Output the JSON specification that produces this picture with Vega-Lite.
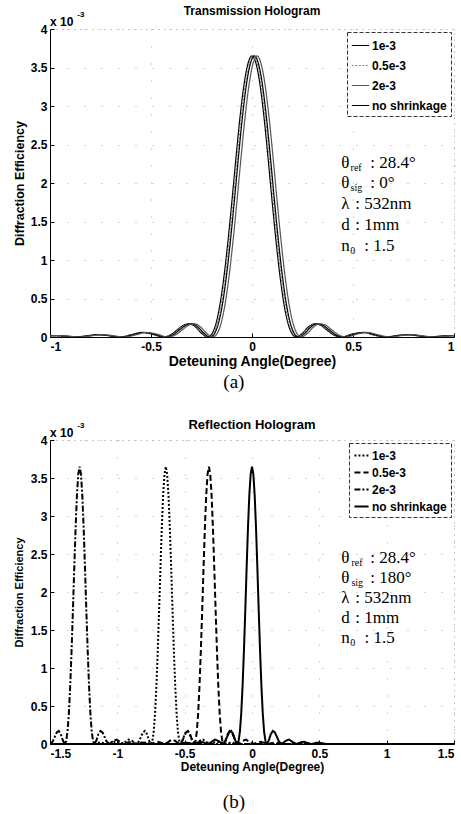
{
"$schema":"https://vega.github.io/schema/vega-lite/v6.json",
"background":"white",
"padding":{"left":12,"top":4,"right":5,"bottom":0},
"spacing":26,
"resolve":{"scale":{"color":"independent","strokeDash":"independent","strokeWidth":"independent"}},
"config":{
 "font":"Liberation Sans",
 "view":{"stroke":"#999","strokeDash":[1,5]},
 "axis":{"labelFont":"Liberation Sans","labelFontSize":12,"labelFontWeight":"bold","labelColor":"black","titleFont":"Liberation Sans","titleFontWeight":"bold","titleColor":"black","domainColor":"black","domainWidth":1,"tickColor":"black","tickSize":-4,"labelPadding":7,"grid":true,"gridColor":"#999","gridDash":[1,16],"gridOpacity":0.8},
 "title":{"font":"Liberation Sans","fontWeight":"bold","color":"black","fontSize":12},
 "legend":{"orient":"top-right","offset":3,"symbolType":"stroke","symbolSize":300,"labelFont":"Liberation Sans","labelFontWeight":"bold","labelFontSize":12,"labelColor":"black","strokeColor":"#333","strokeDash":[4,2],"fillColor":"white","padding":4,"labelOffset":2}
},
"datasets":{
"top":[
{"s":"no shrinkage","x":-1.04,"y":0.00001},{"s":"no shrinkage","x":-0.99,"y":0.000018},{"s":"no shrinkage","x":-0.94,"y":0.000013},{"s":"no shrinkage","x":-0.88,"y":0},{"s":"no shrinkage","x":-0.82,"y":0.000015},{"s":"no shrinkage","x":-0.77,"y":0.00003},{"s":"no shrinkage","x":-0.72,"y":0.00002},{"s":"no shrinkage","x":-0.66,"y":0},{"s":"no shrinkage","x":-0.6,"y":0.000028},{"s":"no shrinkage","x":-0.55,"y":0.000059},{"s":"no shrinkage","x":-0.5,"y":0.000041},{"s":"no shrinkage","x":-0.44,"y":0},{"s":"no shrinkage","x":-0.4,"y":0.000033},{"s":"no shrinkage","x":-0.37,"y":0.000093},{"s":"no shrinkage","x":-0.34,"y":0.000152},{"s":"no shrinkage","x":-0.31,"y":0.000172},{"s":"no shrinkage","x":-0.28,"y":0.000131},{"s":"no shrinkage","x":-0.25,"y":0.000049},{"s":"no shrinkage","x":-0.22,"y":0},{"s":"no shrinkage","x":-0.2,"y":0.000036},{"s":"no shrinkage","x":-0.18,"y":0.00016},{"s":"no shrinkage","x":-0.16,"y":0.0004},{"s":"no shrinkage","x":-0.14,"y":0.00076},{"s":"no shrinkage","x":-0.12,"y":0.00122},{"s":"no shrinkage","x":-0.1,"y":0.00175},{"s":"no shrinkage","x":-0.08,"y":0.00231},{"s":"no shrinkage","x":-0.06,"y":0.00284},{"s":"no shrinkage","x":-0.04,"y":0.00327},{"s":"no shrinkage","x":-0.02,"y":0.00355},{"s":"no shrinkage","x":0,"y":0.00365},{"s":"no shrinkage","x":0.02,"y":0.00355},{"s":"no shrinkage","x":0.04,"y":0.00327},{"s":"no shrinkage","x":0.06,"y":0.00284},{"s":"no shrinkage","x":0.08,"y":0.00231},{"s":"no shrinkage","x":0.1,"y":0.00175},{"s":"no shrinkage","x":0.12,"y":0.00122},{"s":"no shrinkage","x":0.14,"y":0.00076},{"s":"no shrinkage","x":0.16,"y":0.0004},{"s":"no shrinkage","x":0.18,"y":0.00016},{"s":"no shrinkage","x":0.2,"y":0.000036},{"s":"no shrinkage","x":0.22,"y":0},{"s":"no shrinkage","x":0.25,"y":0.000049},{"s":"no shrinkage","x":0.28,"y":0.000131},{"s":"no shrinkage","x":0.31,"y":0.000172},{"s":"no shrinkage","x":0.34,"y":0.000152},{"s":"no shrinkage","x":0.37,"y":0.000093},{"s":"no shrinkage","x":0.4,"y":0.000033},{"s":"no shrinkage","x":0.44,"y":0},{"s":"no shrinkage","x":0.5,"y":0.000041},{"s":"no shrinkage","x":0.55,"y":0.000059},{"s":"no shrinkage","x":0.6,"y":0.000028},{"s":"no shrinkage","x":0.66,"y":0},{"s":"no shrinkage","x":0.72,"y":0.00002},{"s":"no shrinkage","x":0.77,"y":0.00003},{"s":"no shrinkage","x":0.82,"y":0.000015},{"s":"no shrinkage","x":0.88,"y":0},{"s":"no shrinkage","x":0.94,"y":0.000013},{"s":"no shrinkage","x":0.99,"y":0.000018},{"s":"no shrinkage","x":1.04,"y":0.00001},
{"s":"0.5e-3","x":-1.034,"y":0.00001},{"s":"0.5e-3","x":-0.984,"y":0.000018},{"s":"0.5e-3","x":-0.934,"y":0.000013},{"s":"0.5e-3","x":-0.874,"y":0},{"s":"0.5e-3","x":-0.814,"y":0.000015},{"s":"0.5e-3","x":-0.764,"y":0.00003},{"s":"0.5e-3","x":-0.714,"y":0.00002},{"s":"0.5e-3","x":-0.654,"y":0},{"s":"0.5e-3","x":-0.594,"y":0.000028},{"s":"0.5e-3","x":-0.544,"y":0.000059},{"s":"0.5e-3","x":-0.494,"y":0.000041},{"s":"0.5e-3","x":-0.434,"y":0},{"s":"0.5e-3","x":-0.394,"y":0.000033},{"s":"0.5e-3","x":-0.364,"y":0.000093},{"s":"0.5e-3","x":-0.334,"y":0.000152},{"s":"0.5e-3","x":-0.304,"y":0.000172},{"s":"0.5e-3","x":-0.274,"y":0.000131},{"s":"0.5e-3","x":-0.244,"y":0.000049},{"s":"0.5e-3","x":-0.214,"y":0},{"s":"0.5e-3","x":-0.194,"y":0.000036},{"s":"0.5e-3","x":-0.174,"y":0.00016},{"s":"0.5e-3","x":-0.154,"y":0.0004},{"s":"0.5e-3","x":-0.134,"y":0.00076},{"s":"0.5e-3","x":-0.114,"y":0.00122},{"s":"0.5e-3","x":-0.094,"y":0.00175},{"s":"0.5e-3","x":-0.074,"y":0.00231},{"s":"0.5e-3","x":-0.054,"y":0.00284},{"s":"0.5e-3","x":-0.034,"y":0.00327},{"s":"0.5e-3","x":-0.014,"y":0.00355},{"s":"0.5e-3","x":0.006,"y":0.00365},{"s":"0.5e-3","x":0.026,"y":0.00355},{"s":"0.5e-3","x":0.046,"y":0.00327},{"s":"0.5e-3","x":0.066,"y":0.00284},{"s":"0.5e-3","x":0.086,"y":0.00231},{"s":"0.5e-3","x":0.106,"y":0.00175},{"s":"0.5e-3","x":0.126,"y":0.00122},{"s":"0.5e-3","x":0.146,"y":0.00076},{"s":"0.5e-3","x":0.166,"y":0.0004},{"s":"0.5e-3","x":0.186,"y":0.00016},{"s":"0.5e-3","x":0.206,"y":0.000036},{"s":"0.5e-3","x":0.226,"y":0},{"s":"0.5e-3","x":0.256,"y":0.000049},{"s":"0.5e-3","x":0.286,"y":0.000131},{"s":"0.5e-3","x":0.316,"y":0.000172},{"s":"0.5e-3","x":0.346,"y":0.000152},{"s":"0.5e-3","x":0.376,"y":0.000093},{"s":"0.5e-3","x":0.406,"y":0.000033},{"s":"0.5e-3","x":0.446,"y":0},{"s":"0.5e-3","x":0.506,"y":0.000041},{"s":"0.5e-3","x":0.556,"y":0.000059},{"s":"0.5e-3","x":0.606,"y":0.000028},{"s":"0.5e-3","x":0.666,"y":0},{"s":"0.5e-3","x":0.726,"y":0.00002},{"s":"0.5e-3","x":0.776,"y":0.00003},{"s":"0.5e-3","x":0.826,"y":0.000015},{"s":"0.5e-3","x":0.886,"y":0},{"s":"0.5e-3","x":0.946,"y":0.000013},{"s":"0.5e-3","x":0.996,"y":0.000018},{"s":"0.5e-3","x":1.046,"y":0.00001},
{"s":"1e-3","x":-1.028,"y":0.00001},{"s":"1e-3","x":-0.978,"y":0.000018},{"s":"1e-3","x":-0.928,"y":0.000013},{"s":"1e-3","x":-0.868,"y":0},{"s":"1e-3","x":-0.808,"y":0.000015},{"s":"1e-3","x":-0.758,"y":0.00003},{"s":"1e-3","x":-0.708,"y":0.00002},{"s":"1e-3","x":-0.648,"y":0},{"s":"1e-3","x":-0.588,"y":0.000028},{"s":"1e-3","x":-0.538,"y":0.000059},{"s":"1e-3","x":-0.488,"y":0.000041},{"s":"1e-3","x":-0.428,"y":0},{"s":"1e-3","x":-0.388,"y":0.000033},{"s":"1e-3","x":-0.358,"y":0.000093},{"s":"1e-3","x":-0.328,"y":0.000152},{"s":"1e-3","x":-0.298,"y":0.000172},{"s":"1e-3","x":-0.268,"y":0.000131},{"s":"1e-3","x":-0.238,"y":0.000049},{"s":"1e-3","x":-0.208,"y":0},{"s":"1e-3","x":-0.188,"y":0.000036},{"s":"1e-3","x":-0.168,"y":0.00016},{"s":"1e-3","x":-0.148,"y":0.0004},{"s":"1e-3","x":-0.128,"y":0.00076},{"s":"1e-3","x":-0.108,"y":0.00122},{"s":"1e-3","x":-0.088,"y":0.00175},{"s":"1e-3","x":-0.068,"y":0.00231},{"s":"1e-3","x":-0.048,"y":0.00284},{"s":"1e-3","x":-0.028,"y":0.00327},{"s":"1e-3","x":-0.008,"y":0.00355},{"s":"1e-3","x":0.012,"y":0.00365},{"s":"1e-3","x":0.032,"y":0.00355},{"s":"1e-3","x":0.052,"y":0.00327},{"s":"1e-3","x":0.072,"y":0.00284},{"s":"1e-3","x":0.092,"y":0.00231},{"s":"1e-3","x":0.112,"y":0.00175},{"s":"1e-3","x":0.132,"y":0.00122},{"s":"1e-3","x":0.152,"y":0.00076},{"s":"1e-3","x":0.172,"y":0.0004},{"s":"1e-3","x":0.192,"y":0.00016},{"s":"1e-3","x":0.212,"y":0.000036},{"s":"1e-3","x":0.232,"y":0},{"s":"1e-3","x":0.262,"y":0.000049},{"s":"1e-3","x":0.292,"y":0.000131},{"s":"1e-3","x":0.322,"y":0.000172},{"s":"1e-3","x":0.352,"y":0.000152},{"s":"1e-3","x":0.382,"y":0.000093},{"s":"1e-3","x":0.412,"y":0.000033},{"s":"1e-3","x":0.452,"y":0},{"s":"1e-3","x":0.512,"y":0.000041},{"s":"1e-3","x":0.562,"y":0.000059},{"s":"1e-3","x":0.612,"y":0.000028},{"s":"1e-3","x":0.672,"y":0},{"s":"1e-3","x":0.732,"y":0.00002},{"s":"1e-3","x":0.782,"y":0.00003},{"s":"1e-3","x":0.832,"y":0.000015},{"s":"1e-3","x":0.892,"y":0},{"s":"1e-3","x":0.952,"y":0.000013},{"s":"1e-3","x":1.002,"y":0.000018},{"s":"1e-3","x":1.052,"y":0.00001},
{"s":"2e-3","x":-1.015,"y":0.00001},{"s":"2e-3","x":-0.965,"y":0.000018},{"s":"2e-3","x":-0.915,"y":0.000013},{"s":"2e-3","x":-0.855,"y":0},{"s":"2e-3","x":-0.795,"y":0.000015},{"s":"2e-3","x":-0.745,"y":0.00003},{"s":"2e-3","x":-0.695,"y":0.00002},{"s":"2e-3","x":-0.635,"y":0},{"s":"2e-3","x":-0.575,"y":0.000028},{"s":"2e-3","x":-0.525,"y":0.000059},{"s":"2e-3","x":-0.475,"y":0.000041},{"s":"2e-3","x":-0.415,"y":0},{"s":"2e-3","x":-0.375,"y":0.000033},{"s":"2e-3","x":-0.345,"y":0.000093},{"s":"2e-3","x":-0.315,"y":0.000152},{"s":"2e-3","x":-0.285,"y":0.000172},{"s":"2e-3","x":-0.255,"y":0.000131},{"s":"2e-3","x":-0.225,"y":0.000049},{"s":"2e-3","x":-0.195,"y":0},{"s":"2e-3","x":-0.175,"y":0.000036},{"s":"2e-3","x":-0.155,"y":0.00016},{"s":"2e-3","x":-0.135,"y":0.0004},{"s":"2e-3","x":-0.115,"y":0.00076},{"s":"2e-3","x":-0.095,"y":0.00122},{"s":"2e-3","x":-0.075,"y":0.00175},{"s":"2e-3","x":-0.055,"y":0.00231},{"s":"2e-3","x":-0.035,"y":0.00284},{"s":"2e-3","x":-0.015,"y":0.00327},{"s":"2e-3","x":0.005,"y":0.00355},{"s":"2e-3","x":0.025,"y":0.00365},{"s":"2e-3","x":0.045,"y":0.00355},{"s":"2e-3","x":0.065,"y":0.00327},{"s":"2e-3","x":0.085,"y":0.00284},{"s":"2e-3","x":0.105,"y":0.00231},{"s":"2e-3","x":0.125,"y":0.00175},{"s":"2e-3","x":0.145,"y":0.00122},{"s":"2e-3","x":0.165,"y":0.00076},{"s":"2e-3","x":0.185,"y":0.0004},{"s":"2e-3","x":0.205,"y":0.00016},{"s":"2e-3","x":0.225,"y":0.000036},{"s":"2e-3","x":0.245,"y":0},{"s":"2e-3","x":0.275,"y":0.000049},{"s":"2e-3","x":0.305,"y":0.000131},{"s":"2e-3","x":0.335,"y":0.000172},{"s":"2e-3","x":0.365,"y":0.000152},{"s":"2e-3","x":0.395,"y":0.000093},{"s":"2e-3","x":0.425,"y":0.000033},{"s":"2e-3","x":0.465,"y":0},{"s":"2e-3","x":0.525,"y":0.000041},{"s":"2e-3","x":0.575,"y":0.000059},{"s":"2e-3","x":0.625,"y":0.000028},{"s":"2e-3","x":0.685,"y":0},{"s":"2e-3","x":0.745,"y":0.00002},{"s":"2e-3","x":0.795,"y":0.00003},{"s":"2e-3","x":0.845,"y":0.000015},{"s":"2e-3","x":0.905,"y":0},{"s":"2e-3","x":0.965,"y":0.000013},{"s":"2e-3","x":1.015,"y":0.000018},{"s":"2e-3","x":1.065,"y":0.00001}
],
"bot":[
{"s":"no shrinkage","x":-1.5,"y":0},{"s":"no shrinkage","x":-0.55,"y":0},{"s":"no shrinkage","x":-0.52,"y":0.00001},{"s":"no shrinkage","x":-0.495,"y":0.000018},{"s":"no shrinkage","x":-0.47,"y":0.000013},{"s":"no shrinkage","x":-0.44,"y":0},{"s":"no shrinkage","x":-0.41,"y":0.000015},{"s":"no shrinkage","x":-0.385,"y":0.00003},{"s":"no shrinkage","x":-0.36,"y":0.00002},{"s":"no shrinkage","x":-0.33,"y":0},{"s":"no shrinkage","x":-0.3,"y":0.000028},{"s":"no shrinkage","x":-0.275,"y":0.000059},{"s":"no shrinkage","x":-0.25,"y":0.000041},{"s":"no shrinkage","x":-0.22,"y":0},{"s":"no shrinkage","x":-0.2,"y":0.000033},{"s":"no shrinkage","x":-0.185,"y":0.000093},{"s":"no shrinkage","x":-0.17,"y":0.000152},{"s":"no shrinkage","x":-0.155,"y":0.000172},{"s":"no shrinkage","x":-0.14,"y":0.000131},{"s":"no shrinkage","x":-0.125,"y":0.000049},{"s":"no shrinkage","x":-0.11,"y":0},{"s":"no shrinkage","x":-0.1,"y":0.000036},{"s":"no shrinkage","x":-0.09,"y":0.00016},{"s":"no shrinkage","x":-0.08,"y":0.0004},{"s":"no shrinkage","x":-0.07,"y":0.00076},{"s":"no shrinkage","x":-0.06,"y":0.00122},{"s":"no shrinkage","x":-0.05,"y":0.00175},{"s":"no shrinkage","x":-0.04,"y":0.00231},{"s":"no shrinkage","x":-0.03,"y":0.00284},{"s":"no shrinkage","x":-0.02,"y":0.00327},{"s":"no shrinkage","x":-0.01,"y":0.00355},{"s":"no shrinkage","x":0,"y":0.00365},{"s":"no shrinkage","x":0.01,"y":0.00355},{"s":"no shrinkage","x":0.02,"y":0.00327},{"s":"no shrinkage","x":0.03,"y":0.00284},{"s":"no shrinkage","x":0.04,"y":0.00231},{"s":"no shrinkage","x":0.05,"y":0.00175},{"s":"no shrinkage","x":0.06,"y":0.00122},{"s":"no shrinkage","x":0.07,"y":0.00076},{"s":"no shrinkage","x":0.08,"y":0.0004},{"s":"no shrinkage","x":0.09,"y":0.00016},{"s":"no shrinkage","x":0.1,"y":0.000036},{"s":"no shrinkage","x":0.11,"y":0},{"s":"no shrinkage","x":0.125,"y":0.000049},{"s":"no shrinkage","x":0.14,"y":0.000131},{"s":"no shrinkage","x":0.155,"y":0.000172},{"s":"no shrinkage","x":0.17,"y":0.000152},{"s":"no shrinkage","x":0.185,"y":0.000093},{"s":"no shrinkage","x":0.2,"y":0.000033},{"s":"no shrinkage","x":0.22,"y":0},{"s":"no shrinkage","x":0.25,"y":0.000041},{"s":"no shrinkage","x":0.275,"y":0.000059},{"s":"no shrinkage","x":0.3,"y":0.000028},{"s":"no shrinkage","x":0.33,"y":0},{"s":"no shrinkage","x":0.36,"y":0.00002},{"s":"no shrinkage","x":0.385,"y":0.00003},{"s":"no shrinkage","x":0.41,"y":0.000015},{"s":"no shrinkage","x":0.44,"y":0},{"s":"no shrinkage","x":0.47,"y":0.000013},{"s":"no shrinkage","x":0.495,"y":0.000018},{"s":"no shrinkage","x":0.52,"y":0.00001},{"s":"no shrinkage","x":0.55,"y":0},{"s":"no shrinkage","x":1.5,"y":0},
{"s":"0.5e-3","x":-1.5,"y":0},{"s":"0.5e-3","x":-0.87,"y":0},{"s":"0.5e-3","x":-0.84,"y":0.00001},{"s":"0.5e-3","x":-0.815,"y":0.000018},{"s":"0.5e-3","x":-0.79,"y":0.000013},{"s":"0.5e-3","x":-0.76,"y":0},{"s":"0.5e-3","x":-0.73,"y":0.000015},{"s":"0.5e-3","x":-0.705,"y":0.00003},{"s":"0.5e-3","x":-0.68,"y":0.00002},{"s":"0.5e-3","x":-0.65,"y":0},{"s":"0.5e-3","x":-0.62,"y":0.000028},{"s":"0.5e-3","x":-0.595,"y":0.000059},{"s":"0.5e-3","x":-0.57,"y":0.000041},{"s":"0.5e-3","x":-0.54,"y":0},{"s":"0.5e-3","x":-0.52,"y":0.000033},{"s":"0.5e-3","x":-0.505,"y":0.000093},{"s":"0.5e-3","x":-0.49,"y":0.000152},{"s":"0.5e-3","x":-0.475,"y":0.000172},{"s":"0.5e-3","x":-0.46,"y":0.000131},{"s":"0.5e-3","x":-0.445,"y":0.000049},{"s":"0.5e-3","x":-0.43,"y":0},{"s":"0.5e-3","x":-0.42,"y":0.000036},{"s":"0.5e-3","x":-0.41,"y":0.00016},{"s":"0.5e-3","x":-0.4,"y":0.0004},{"s":"0.5e-3","x":-0.39,"y":0.00076},{"s":"0.5e-3","x":-0.38,"y":0.00122},{"s":"0.5e-3","x":-0.37,"y":0.00175},{"s":"0.5e-3","x":-0.36,"y":0.00231},{"s":"0.5e-3","x":-0.35,"y":0.00284},{"s":"0.5e-3","x":-0.34,"y":0.00327},{"s":"0.5e-3","x":-0.33,"y":0.00355},{"s":"0.5e-3","x":-0.32,"y":0.00365},{"s":"0.5e-3","x":-0.31,"y":0.00355},{"s":"0.5e-3","x":-0.3,"y":0.00327},{"s":"0.5e-3","x":-0.29,"y":0.00284},{"s":"0.5e-3","x":-0.28,"y":0.00231},{"s":"0.5e-3","x":-0.27,"y":0.00175},{"s":"0.5e-3","x":-0.26,"y":0.00122},{"s":"0.5e-3","x":-0.25,"y":0.00076},{"s":"0.5e-3","x":-0.24,"y":0.0004},{"s":"0.5e-3","x":-0.23,"y":0.00016},{"s":"0.5e-3","x":-0.22,"y":0.000036},{"s":"0.5e-3","x":-0.21,"y":0},{"s":"0.5e-3","x":-0.195,"y":0.000049},{"s":"0.5e-3","x":-0.18,"y":0.000131},{"s":"0.5e-3","x":-0.165,"y":0.000172},{"s":"0.5e-3","x":-0.15,"y":0.000152},{"s":"0.5e-3","x":-0.135,"y":0.000093},{"s":"0.5e-3","x":-0.12,"y":0.000033},{"s":"0.5e-3","x":-0.1,"y":0},{"s":"0.5e-3","x":-0.07,"y":0.000041},{"s":"0.5e-3","x":-0.045,"y":0.000059},{"s":"0.5e-3","x":-0.02,"y":0.000028},{"s":"0.5e-3","x":0.01,"y":0},{"s":"0.5e-3","x":0.04,"y":0.00002},{"s":"0.5e-3","x":0.065,"y":0.00003},{"s":"0.5e-3","x":0.09,"y":0.000015},{"s":"0.5e-3","x":0.12,"y":0},{"s":"0.5e-3","x":0.15,"y":0.000013},{"s":"0.5e-3","x":0.175,"y":0.000018},{"s":"0.5e-3","x":0.2,"y":0.00001},{"s":"0.5e-3","x":0.23,"y":0},{"s":"0.5e-3","x":1.5,"y":0},
{"s":"1e-3","x":-1.5,"y":0},{"s":"1e-3","x":-1.19,"y":0},{"s":"1e-3","x":-1.16,"y":0.00001},{"s":"1e-3","x":-1.135,"y":0.000018},{"s":"1e-3","x":-1.11,"y":0.000013},{"s":"1e-3","x":-1.08,"y":0},{"s":"1e-3","x":-1.05,"y":0.000015},{"s":"1e-3","x":-1.025,"y":0.00003},{"s":"1e-3","x":-1.0,"y":0.00002},{"s":"1e-3","x":-0.97,"y":0},{"s":"1e-3","x":-0.94,"y":0.000028},{"s":"1e-3","x":-0.915,"y":0.000059},{"s":"1e-3","x":-0.89,"y":0.000041},{"s":"1e-3","x":-0.86,"y":0},{"s":"1e-3","x":-0.84,"y":0.000033},{"s":"1e-3","x":-0.825,"y":0.000093},{"s":"1e-3","x":-0.81,"y":0.000152},{"s":"1e-3","x":-0.795,"y":0.000172},{"s":"1e-3","x":-0.78,"y":0.000131},{"s":"1e-3","x":-0.765,"y":0.000049},{"s":"1e-3","x":-0.75,"y":0},{"s":"1e-3","x":-0.74,"y":0.000036},{"s":"1e-3","x":-0.73,"y":0.00016},{"s":"1e-3","x":-0.72,"y":0.0004},{"s":"1e-3","x":-0.71,"y":0.00076},{"s":"1e-3","x":-0.7,"y":0.00122},{"s":"1e-3","x":-0.69,"y":0.00175},{"s":"1e-3","x":-0.68,"y":0.00231},{"s":"1e-3","x":-0.67,"y":0.00284},{"s":"1e-3","x":-0.66,"y":0.00327},{"s":"1e-3","x":-0.65,"y":0.00355},{"s":"1e-3","x":-0.64,"y":0.00365},{"s":"1e-3","x":-0.63,"y":0.00355},{"s":"1e-3","x":-0.62,"y":0.00327},{"s":"1e-3","x":-0.61,"y":0.00284},{"s":"1e-3","x":-0.6,"y":0.00231},{"s":"1e-3","x":-0.59,"y":0.00175},{"s":"1e-3","x":-0.58,"y":0.00122},{"s":"1e-3","x":-0.57,"y":0.00076},{"s":"1e-3","x":-0.56,"y":0.0004},{"s":"1e-3","x":-0.55,"y":0.00016},{"s":"1e-3","x":-0.54,"y":0.000036},{"s":"1e-3","x":-0.53,"y":0},{"s":"1e-3","x":-0.515,"y":0.000049},{"s":"1e-3","x":-0.5,"y":0.000131},{"s":"1e-3","x":-0.485,"y":0.000172},{"s":"1e-3","x":-0.47,"y":0.000152},{"s":"1e-3","x":-0.455,"y":0.000093},{"s":"1e-3","x":-0.44,"y":0.000033},{"s":"1e-3","x":-0.42,"y":0},{"s":"1e-3","x":-0.39,"y":0.000041},{"s":"1e-3","x":-0.365,"y":0.000059},{"s":"1e-3","x":-0.34,"y":0.000028},{"s":"1e-3","x":-0.31,"y":0},{"s":"1e-3","x":-0.28,"y":0.00002},{"s":"1e-3","x":-0.255,"y":0.00003},{"s":"1e-3","x":-0.23,"y":0.000015},{"s":"1e-3","x":-0.2,"y":0},{"s":"1e-3","x":-0.17,"y":0.000013},{"s":"1e-3","x":-0.145,"y":0.000018},{"s":"1e-3","x":-0.12,"y":0.00001},{"s":"1e-3","x":-0.09,"y":0},{"s":"1e-3","x":1.5,"y":0},
{"s":"2e-3","x":-1.5,"y":0},{"s":"2e-3","x":-1.48,"y":0.000033},{"s":"2e-3","x":-1.465,"y":0.000093},{"s":"2e-3","x":-1.45,"y":0.000152},{"s":"2e-3","x":-1.435,"y":0.000172},{"s":"2e-3","x":-1.42,"y":0.000131},{"s":"2e-3","x":-1.405,"y":0.000049},{"s":"2e-3","x":-1.39,"y":0},{"s":"2e-3","x":-1.38,"y":0.000036},{"s":"2e-3","x":-1.37,"y":0.00016},{"s":"2e-3","x":-1.36,"y":0.0004},{"s":"2e-3","x":-1.35,"y":0.00076},{"s":"2e-3","x":-1.34,"y":0.00122},{"s":"2e-3","x":-1.33,"y":0.00175},{"s":"2e-3","x":-1.32,"y":0.00231},{"s":"2e-3","x":-1.31,"y":0.00284},{"s":"2e-3","x":-1.3,"y":0.00327},{"s":"2e-3","x":-1.29,"y":0.00355},{"s":"2e-3","x":-1.28,"y":0.00365},{"s":"2e-3","x":-1.27,"y":0.00355},{"s":"2e-3","x":-1.26,"y":0.00327},{"s":"2e-3","x":-1.25,"y":0.00284},{"s":"2e-3","x":-1.24,"y":0.00231},{"s":"2e-3","x":-1.23,"y":0.00175},{"s":"2e-3","x":-1.22,"y":0.00122},{"s":"2e-3","x":-1.21,"y":0.00076},{"s":"2e-3","x":-1.2,"y":0.0004},{"s":"2e-3","x":-1.19,"y":0.00016},{"s":"2e-3","x":-1.18,"y":0.000036},{"s":"2e-3","x":-1.17,"y":0},{"s":"2e-3","x":-1.155,"y":0.000049},{"s":"2e-3","x":-1.14,"y":0.000131},{"s":"2e-3","x":-1.125,"y":0.000172},{"s":"2e-3","x":-1.11,"y":0.000152},{"s":"2e-3","x":-1.095,"y":0.000093},{"s":"2e-3","x":-1.08,"y":0.000033},{"s":"2e-3","x":-1.06,"y":0},{"s":"2e-3","x":-1.03,"y":0.000041},{"s":"2e-3","x":-1.005,"y":0.000059},{"s":"2e-3","x":-0.98,"y":0.000028},{"s":"2e-3","x":-0.95,"y":0},{"s":"2e-3","x":-0.92,"y":0.00002},{"s":"2e-3","x":-0.895,"y":0.00003},{"s":"2e-3","x":-0.87,"y":0.000015},{"s":"2e-3","x":-0.84,"y":0},{"s":"2e-3","x":-0.81,"y":0.000013},{"s":"2e-3","x":-0.785,"y":0.000018},{"s":"2e-3","x":-0.76,"y":0.00001},{"s":"2e-3","x":-0.73,"y":0},{"s":"2e-3","x":1.5,"y":0}
],
"notesTop":[
{"k":"m","t":"θ","x":0.442,"y":0.00226},{"k":"s","t":"ref","x":0.488,"y":0.00226},{"k":"m","t":": 28.4°","x":0.586,"y":0.00226},
{"k":"m","t":"θ","x":0.442,"y":0.002},{"k":"s","t":"sig","x":0.488,"y":0.002},{"k":"m","t":": 0°","x":0.586,"y":0.002},
{"k":"m","t":"λ","x":0.442,"y":0.001727},{"k":"m","t":": 532nm","x":0.511,"y":0.001727},
{"k":"m","t":"d","x":0.442,"y":0.00146},{"k":"m","t":": 1mm","x":0.511,"y":0.00146},
{"k":"m","t":"n","x":0.442,"y":0.00118},{"k":"s","t":"0","x":0.487,"y":0.00118},{"k":"m","t":": 1.5","x":0.556,"y":0.00118},
{"k":"e","t":"x 10","x":-1,"y":0.004},{"k":"p","t":"-3","x":-0.865,"y":0.004}
],
"notesBot":[
{"k":"m","t":"θ","x":0.663,"y":0.002447},{"k":"s","t":"ref","x":0.738,"y":0.002447},{"k":"m","t":": 28.4°","x":0.878,"y":0.002447},
{"k":"m","t":"θ","x":0.663,"y":0.002184},{"k":"s","t":"sig","x":0.738,"y":0.002184},{"k":"m","t":": 180°","x":0.878,"y":0.002184},
{"k":"m","t":"λ","x":0.663,"y":0.001921},{"k":"m","t":": 532nm","x":0.767,"y":0.001921},
{"k":"m","t":"d","x":0.663,"y":0.001658},{"k":"m","t":": 1mm","x":0.767,"y":0.001658},
{"k":"m","t":"n","x":0.663,"y":0.001395},{"k":"s","t":"0","x":0.73,"y":0.001395},{"k":"m","t":": 1.5","x":0.835,"y":0.001395},
{"k":"e","t":"x 10","x":-1.5,"y":0.004},{"k":"p","t":"-3","x":-1.297,"y":0.004}
]
},
"vconcat":[
{"title":{"text":"(a)","orient":"bottom","anchor":"middle","font":"Liberation Serif","fontSize":19,"fontWeight":"normal","offset":4},
 "resolve":{"scale":{"color":"independent","strokeDash":"independent","strokeWidth":"independent"}},
 "vconcat":[{
  "width":404,"height":308,
  "title":{"text":"Transmission Hologram","fontSize":12,"offset":-7},
  "encoding":{
   "x":{"field":"x","type":"quantitative","scale":{"domain":[-1,1],"nice":false},"axis":{"values":[-1,-0.5,0,0.5,1],"labelExpr":"''+datum.value","title":"Deteuning Angle(Degree)","titleFontSize":14,"titlePadding":2,"labelPadding":8}},
   "y":{"field":"y","type":"quantitative","scale":{"domain":[0,0.004],"nice":false},"axis":{"values":[0,0.0005,0.001,0.0015,0.002,0.0025,0.003,0.0035,0.004],"labelExpr":"''+round(datum.value*10000)/10","title":"Diffraction Efficiency","titleFontSize":12.5,"titlePadding":4}}
  },
  "layer":[
   {"data":{"name":"top"},"mark":{"type":"line","clip":true,"interpolate":"monotone"},
    "encoding":{
     "color":{"field":"s","type":"ordinal","scale":{"domain":["1e-3","0.5e-3","2e-3","no shrinkage"],"range":["black","#888","#555","black"]},"legend":{"title":null,"rowPadding":4,"symbolSize":300}},
     "strokeDash":{"field":"s","type":"ordinal","scale":{"domain":["1e-3","0.5e-3","2e-3","no shrinkage"],"range":[[1,0],[2,1.5],[1,0],[1,0]]},"legend":{"title":null}},
     "strokeWidth":{"field":"s","type":"ordinal","scale":{"domain":["1e-3","0.5e-3","2e-3","no shrinkage"],"range":[1.2,1.2,1,2.6]},"legend":{"title":null}}
    }},
   {"data":{"name":"notesTop"},"transform":[{"filter":"datum.k=='m'"}],"mark":{"type":"text","align":"left","baseline":"middle","font":"Liberation Serif","fontSize":17,"color":"black"},"encoding":{"text":{"field":"t"}}},
   {"data":{"name":"notesTop"},"transform":[{"filter":"datum.k=='s'"}],"mark":{"type":"text","align":"left","baseline":"middle","font":"Liberation Serif","fontSize":10,"dy":5,"color":"black"},"encoding":{"text":{"field":"t"}}},
   {"data":{"name":"notesTop"},"transform":[{"filter":"datum.k=='e'"}],"mark":{"type":"text","align":"left","baseline":"middle","font":"Liberation Sans","fontWeight":"bold","fontSize":12,"dy":-7,"color":"black"},"encoding":{"text":{"field":"t"}}},
   {"data":{"name":"notesTop"},"transform":[{"filter":"datum.k=='p'"}],"mark":{"type":"text","align":"left","baseline":"middle","font":"Liberation Sans","fontWeight":"bold","fontSize":8,"dy":-14,"color":"black"},"encoding":{"text":{"field":"t"}}}
  ]
 }]
},
{"title":{"text":"(b)","orient":"bottom","anchor":"middle","font":"Liberation Serif","fontSize":19,"fontWeight":"normal","offset":20},
 "resolve":{"scale":{"color":"independent","strokeDash":"independent","strokeWidth":"independent"}},
 "vconcat":[{
  "width":404,"height":304,
  "title":{"text":"Reflection Hologram","fontSize":13,"offset":-10},
  "encoding":{
   "x":{"field":"x","type":"quantitative","scale":{"domain":[-1.5,1.5],"nice":false},"axis":{"values":[-1.5,-1,-0.5,0,0.5,1,1.5],"labelExpr":"''+datum.value","title":"Deteuning Angle(Degree)","titleFontSize":12,"titlePadding":2,"labelPadding":8}},
   "y":{"field":"y","type":"quantitative","scale":{"domain":[0,0.004],"nice":false},"axis":{"values":[0,0.0005,0.001,0.0015,0.002,0.0025,0.003,0.0035,0.004],"labelExpr":"''+round(datum.value*10000)/10","title":"Diffraction Efficiency","titleFontSize":11,"titlePadding":6}}
  },
  "layer":[
   {"data":{"name":"bot"},"mark":{"type":"line","clip":true},
    "encoding":{
     "color":{"field":"s","type":"ordinal","scale":{"domain":["1e-3","0.5e-3","2e-3","no shrinkage"],"range":["black","black","black","black"]},"legend":{"title":null,"rowPadding":2,"symbolSize":200}},
     "strokeDash":{"field":"s","type":"ordinal","scale":{"domain":["1e-3","0.5e-3","2e-3","no shrinkage"],"range":[[2,2],[6,3],[6,2,2,2],[1,0]]},"legend":{"title":null}},
     "strokeWidth":{"field":"s","type":"ordinal","scale":{"domain":["1e-3","0.5e-3","2e-3","no shrinkage"],"range":[2,2,2,2]},"legend":{"title":null}}
    }},
   {"data":{"name":"notesBot"},"transform":[{"filter":"datum.k=='m'"}],"mark":{"type":"text","align":"left","baseline":"middle","font":"Liberation Serif","fontSize":17,"color":"black"},"encoding":{"text":{"field":"t"}}},
   {"data":{"name":"notesBot"},"transform":[{"filter":"datum.k=='s'"}],"mark":{"type":"text","align":"left","baseline":"middle","font":"Liberation Serif","fontSize":10,"dy":5,"color":"black"},"encoding":{"text":{"field":"t"}}},
   {"data":{"name":"notesBot"},"transform":[{"filter":"datum.k=='e'"}],"mark":{"type":"text","align":"left","baseline":"middle","font":"Liberation Sans","fontWeight":"bold","fontSize":12,"dy":-7,"color":"black"},"encoding":{"text":{"field":"t"}}},
   {"data":{"name":"notesBot"},"transform":[{"filter":"datum.k=='p'"}],"mark":{"type":"text","align":"left","baseline":"middle","font":"Liberation Sans","fontWeight":"bold","fontSize":8,"dy":-14,"color":"black"},"encoding":{"text":{"field":"t"}}}
  ]
 }]
}
]
}
